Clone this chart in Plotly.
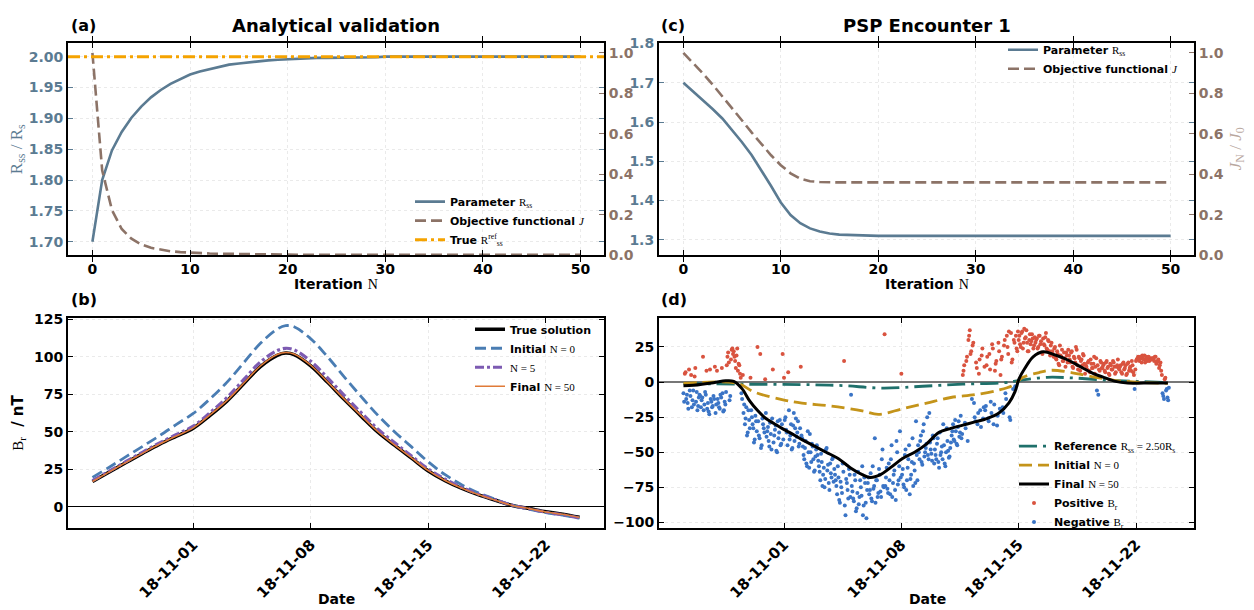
import pandas as pd
import plotly.graph_objects as go

# ---------------- data ----------------
iterations = list(range(51))

# (a) analytical validation
rss_analytic = [1.700, 1.800, 1.848, 1.878, 1.901, 1.919, 1.934, 1.946, 1.956, 1.964,
                1.971, 1.976, 1.980, 1.984, 1.987, 1.989, 1.991, 1.993, 1.994, 1.995,
                1.996, 1.997, 1.997, 1.998, 1.998, 1.998, 1.999, 1.999, 1.999, 1.999,
                2.000, 2.000, 2.000, 2.000, 2.000, 2.000, 2.000, 2.000, 2.000, 2.000,
                2.000, 2.000, 2.000, 2.000, 2.000, 2.000, 2.000, 2.000, 2.000, 2.000,
                2.000]
j_analytic = [1.000, 0.420, 0.224, 0.130, 0.082, 0.054, 0.037, 0.027, 0.020, 0.016,
              0.013, 0.011, 0.009, 0.008, 0.007, 0.006, 0.005, 0.005, 0.004, 0.004,
              0.003, 0.003, 0.003, 0.003, 0.003, 0.003, 0.003, 0.003, 0.003, 0.003,
              0.003, 0.003, 0.003, 0.003, 0.003, 0.003, 0.003, 0.003, 0.003, 0.003,
              0.003, 0.003, 0.003, 0.003, 0.003, 0.003, 0.003, 0.003, 0.003, 0.003,
              0.003]
rss_true = 2.0

# (c) PSP encounter 1
rss_psp = [1.700, 1.678, 1.656, 1.633, 1.609, 1.580, 1.549, 1.516, 1.478, 1.437,
           1.395, 1.363, 1.342, 1.329, 1.321, 1.316, 1.313, 1.312, 1.311, 1.3105,
           1.310, 1.310, 1.310, 1.310, 1.310, 1.310, 1.310, 1.310, 1.310, 1.310,
           1.310, 1.310, 1.310, 1.310, 1.310, 1.310, 1.310, 1.310, 1.310, 1.310,
           1.310, 1.310, 1.310, 1.310, 1.310, 1.310, 1.310, 1.310, 1.310, 1.310,
           1.310]
j_psp = [1.000, 0.950, 0.898, 0.843, 0.786, 0.727, 0.667, 0.607, 0.549, 0.494,
         0.445, 0.405, 0.378, 0.366, 0.362, 0.360, 0.360, 0.360, 0.360, 0.360,
         0.360, 0.360, 0.360, 0.360, 0.360, 0.360, 0.360, 0.360, 0.360, 0.360,
         0.360, 0.360, 0.360, 0.360, 0.360, 0.360, 0.360, 0.360, 0.360, 0.360,
         0.360, 0.360, 0.360, 0.360, 0.360, 0.360, 0.360, 0.360, 0.360, 0.360,
         0.360]

# (b) synthetic B_r along the trajectory (days since 2018-10-26)
start = pd.Timestamp("2018-10-26")
b_days = [0, 1, 2, 3, 4, 5, 6, 7, 8, 9, 10, 11, 11.5, 12, 13, 14, 15, 16, 17, 18,
          19, 20, 21, 22, 23, 24, 25, 26, 27, 28, 29]
br_true = [16.9, 23.3, 29.6, 35.8, 41.8, 47.2, 52.5, 61.0, 70.5, 82.0, 93.5, 101.0,
           102.5, 101.5, 94.0, 83.0, 71.5, 60.5, 49.8, 41.0, 32.5, 24.0, 17.5, 12.3,
           8.0, 4.5, 1.0, -1.0, -3.2, -4.8, -6.9]
br_init = [19.7, 26.5, 33.5, 40.5, 47.5, 55.0, 62.3, 72.0, 83.0, 96.0, 109.0, 118.5,
           120.8, 120.0, 112.0, 100.0, 86.5, 73.5, 61.0, 50.0, 40.0, 30.0, 21.5, 14.7,
           9.3, 5.0, 1.1, -1.5, -3.8, -5.5, -7.5]
br_n5 = [17.5, 23.9, 30.3, 36.6, 42.7, 48.3, 53.8, 62.8, 72.8, 84.8, 96.6, 104.2,
         105.7, 104.7, 97.0, 86.0, 74.2, 62.8, 51.8, 42.7, 33.9, 25.2, 18.5, 13.0,
         8.5, 4.8, 1.1, -1.2, -3.5, -5.2, -7.3]
br_final = [17.0, 23.4, 29.7, 35.9, 41.9, 47.3, 52.7, 61.3, 70.8, 82.4, 93.9, 101.5,
            102.9, 101.9, 94.4, 83.3, 71.8, 60.8, 50.1, 41.2, 32.7, 24.2, 17.6, 12.4,
            8.1, 4.5, 1.0, -1.1, -3.3, -4.9, -7.0]

# (d) PSP measured B_r, one row per day from 2018-10-26; samples at even hours ...
obs_even = [
    [-8, 6, -12, -15, 9, -10, -18, -6, 4, -14, -20, -11],
    [-10, -13, 18, -16, -9, -19, -21, 9, -14, -17, -12, -22],
    [8, -15, -19, -11, -8, -20, -16, 12, 21, -13, 16, 24],
    [22, 15, 19, 8, 12, 3, -12, -22, -30, -18, -36, -27],
    [3, -25, -33, -41, -28, 25, -38, 20, -45, -30, -36, -22],
    [-35, -42, -29, -48, 9, -38, -31, -50, -40, -27, -44, 20],
    [3, -25, -36, 7, -41, -30, -47, -22, -33, -39, -28, -44],
    [11, -40, -52, -47, -58, -35, -61, -50, -44, -55, -63, -48],
    [-52, -60, -70, -57, -66, -75, -48, -63, -72, -58, -68, -54],
    [-62, -70, -80, -68, -86, -75, -58, 15, -95, -72, -83, -66],
    [-9, -78, -85, -70, -90, -64, -82, -75, -60, -88, -72, -97],
    [-72, -80, -65, -85, -76, -40, -70, -82, -62, -78, -55, -74],
    [34, -68, -76, -58, -80, -45, -72, -63, -84, -50, -70, -35],
    [6, -62, -75, -48, -70, -55, -80, -66, -40, -58, -72, -52],
    [-45, -55, -38, -59, -30, -50, -44, -52, -22, -48, -56, -40],
    [-48, -55, -40, -61, -52, -46, -30, -58, -50, -42, -54, -47],
    [-38, -30, -42, -35, -45, -28, -36, -40, 5, 12, -33, 18],
    [30, 37, 22, 26, -15, -28, 10, -22, 16, -32, 24, -18],
    [-20, 12, -26, 20, -14, 27, -30, 8, 15, -24, 22, 5],
    [18, -22, 30, -12, 25, 36, -27, 14, -5, 28, 33, 22],
    [30, 27, 35, 24, 38, 32, 28, 22, 34, 29, 31, 26],
    [28, 31, 25, 33, 29, 20, 27, 32, 24, 30, 22, 26],
    [22, 18, 25, 16, 20, 12, 19, 23, 15, 17, 21, 14],
    [19, 14, 22, 10, 17, 25, 12, 18, 8, 16, 20, 13],
    [12, 9, 15, 7, 13, 10, 18, 11, -6, -9, 8, 14],
    [10, 13, 7, 15, 11, 5, 12, 9, 14, 6, 11, 16],
    [9, 12, 6, 14, 10, 5, 13, 8, 11, 15, 7, -5],
    [15, 17, 16, 18, 14, 17, 19, 16, 15, 18, 17, 16],
    [17, 15, 18, 14, 16, 12, 8, -8, -12, 3, -5, -13],
]
# ... and at odd hours
obs_odd = [
    [-14, 7, -9, -19, -6, 5, -13, -16, 10, -7, -17, -9],
    [-18, -11, -20, -7, 8, -15, -23, -12, -18, -10, 11, -16],
    [-12, -18, -9, 10, -21, -14, -7, 18, 14, -10, 23, 20],
    [18, 10, 24, 13, 6, -8, 5, -16, -26, -38, -20, -33],
    [-20, -30, -43, -24, -35, -28, -40, -47, -26, -33, 2, -39],
    [-32, -46, -37, -26, -43, -34, -49, -28, -36, -45, -30, -41],
    [-27, -34, -45, -20, -38, -48, -31, -42, -26, -36, -46, -33],
    [-38, -46, -55, -42, -60, -50, -37, -57, -46, -64, -53, -45],
    [-56, -64, -51, -74, -61, -69, -47, -59, -77, -65, -55, -71],
    [-66, -74, -60, -84, -71, -79, -64, -88, -69, -77, -62, -82],
    [-74, -83, -66, -92, -79, -87, -70, -81, -95, -68, -86, -77],
    [-68, -77, -83, -60, -74, -86, -70, -79, -66, -82, -48, -75],
    [-74, -61, -79, -70, -55, -82, -66, -77, -42, -73, -60, -68],
    [-66, -73, -52, -77, -61, -45, -69, -57, -74, -63, -28, -70],
    [-50, -42, -57, -35, -53, -47, -25, -55, -43, -51, -38, -58],
    [-52, -44, -57, -36, -50, -55, -45, -60, -33, -49, -53, -43],
    [-35, -41, -27, -44, -32, -39, -24, -37, 8, -29, 15, -42],
    [33, 20, -12, 28, -25, 14, -30, 6, -20, 19, -26, 11],
    [-17, 18, -28, 9, -22, 24, -16, 13, -31, 28, -19, 16],
    [-18, 26, -8, 33, 20, -25, 35, 16, 30, -3, 24, 36],
    [33, 25, 36, 28, 31, 37, 22, 30, 27, 34, 24, 32],
    [30, 24, 33, 27, 21, 31, 26, 35, 23, 29, 19, 28],
    [20, 24, 17, 22, 13, 26, 18, 15, 21, 11, 19, 23],
    [16, 21, 11, 18, 14, 23, 9, 17, 15, 12, 19, 6],
    [11, 14, 8, 16, 10, 13, 6, 17, 12, 9, 15, 10],
    [12, 8, 14, 10, 6, 13, 9, 15, 11, 7, 12, 10],
    [11, 7, 13, 9, 12, 6, 14, 10, 8, 12, 5, 9],
    [16, 18, 15, 17, 19, 16, 14, 18, 17, 15, 16, 17],
    [16, 18, 13, 15, 10, 14, 5, -10, 2, -6, -11, -4],
]

# (d) modelled B_r curves (days since 2018-10-26)
ref_days = [0, 3.48, 7.07, 9.47, 11.87, 14.27, 16.67, 19.06, 20.26, 21.7, 23.14, 25.06,
            26.98, 28.9]
br_ref = [-1.0, -1.5, -1.8, -2.5, -4.3, -3.0, -1.5, -0.5, 1.5, 3.4, 3.0, 1.5, 0.5, -0.3]

init_days = [0, 3.24, 4.2, 5.88, 7.07, 8.75, 10.67, 11.63, 13.07, 14.51, 15.95, 17.39,
             18.82, 19.66, 20.26, 21.22, 21.94, 23.14, 24.58, 25.78, 26.98, 28.9]
br_psp_init = [-1.0, -1.0, -7.0, -12.5, -15.0, -17.0, -20.5, -23.0, -19.0, -15.0, -11.0,
               -9.0, -5.7, -2.3, 3.4, 6.8, 8.4, 6.8, 3.4, 1.1, 0.0, -1.0]

final_days = [0, 0.6, 1.8, 2.52, 3.0, 3.48, 3.96, 4.44, 4.92, 5.4, 5.88, 6.35, 7.07,
              7.79, 8.51, 9.23, 9.95, 10.67, 11.15, 11.75, 12.35, 13.07, 13.79, 14.51,
              15.23, 15.95, 16.67, 17.39, 18.1, 18.82, 19.42, 19.78, 20.02, 20.38,
              20.86, 21.46, 22.18, 22.9, 23.62, 24.34, 25.06, 25.78, 26.5, 27.46, 28.9]
br_psp_final = [-2.7, -2.3, -0.5, 0.9, 0.5, -4.5, -13.6, -20.5, -26.0, -29.5, -33.0,
                -36.0, -41.0, -45.5, -50.0, -54.5, -61.0, -66.0, -68.0, -66.0, -61.0,
                -54.5, -50.0, -44.0, -36.0, -33.0, -30.7, -28.4, -26.0, -22.0, -14.8,
                -6.8, 2.3, 10.0, 18.0, 21.6, 19.3, 15.9, 11.4, 6.8, 3.4, 0.5, -0.7,
                -0.7, -0.7]

date_ticks = ["2018-11-01", "2018-11-08", "2018-11-15", "2018-11-22"]

# ---------------- styling ----------------
W, H = 1254, 610
C_RSS = "#5b7b92"
C_J = "#8c7367"
C_TRUE = "#f5a300"
C_INIT_B = "#4a7db3"
C_N5 = "#7d5bb2"
C_FIN_B = "#e07a38"
C_REF_D = "#1f706b"
C_INIT_D = "#c4941a"
C_POS = "#d9533f"
C_NEG = "#3a74c6"
FONT = "DejaVu Sans"


def math(s):
    return f'<span style="font-family:Liberation Serif;font-weight:normal">{s}</span>'


def px(x):
    return x / W


def py(y):
    return 1 - y / H


def to_time(days):
    return (start + pd.to_timedelta(pd.Series(days, dtype=float), unit="D")).dt.round("s")


obs_t, obs_v = [], []
for offset, table in ((0, obs_even), (1, obs_odd)):
    for d, row in enumerate(table):
        for k, v in enumerate(row):
            obs_t.append(start + pd.Timedelta(days=d, hours=2 * k + offset))
            obs_v.append(v)
obs = pd.DataFrame({"t": obs_t, "br": obs_v}).sort_values("t")
pos = obs[obs.br >= 0]
neg = obs[obs.br < 0]

XA = [px(68), px(604)]
XC = [px(659), px(1194)]
YTOP = [py(254), py(36)]
YBOT = [py(534), py(318)]

tickfont = dict(family=FONT, size=14, color="black", weight="bold")


def frame(**kw):
    d = dict(showline=True, linewidth=2, linecolor="black", mirror="allticks",
             ticks="inside", ticklen=5, tickwidth=1, tickcolor="black",
             showgrid=True, gridcolor="#eaeaea", griddash="dot", gridwidth=1,
             zeroline=False, tickfont=tickfont)
    d.update(kw)
    return d


fig = go.Figure()

# (a)
fig.add_trace(go.Scatter(x=iterations, y=rss_analytic, mode="lines",
                         line=dict(color=C_RSS, width=2.6), xaxis="x", yaxis="y",
                         name="Parameter " + math("R<sub>ss</sub>"), legend="legend"))
fig.add_trace(go.Scatter(x=iterations, y=j_analytic, mode="lines",
                         line=dict(color=C_J, width=2.6, dash="11px,5px"), xaxis="x", yaxis="y2",
                         name="Objective functional " + math("<i>J</i>"), legend="legend"))

# (c)
fig.add_trace(go.Scatter(x=iterations, y=rss_psp, mode="lines",
                         line=dict(color=C_RSS, width=2.6), xaxis="x2", yaxis="y3",
                         name="Parameter " + math("R<sub>ss</sub>"), legend="legend2"))
fig.add_trace(go.Scatter(x=iterations, y=j_psp, mode="lines",
                         line=dict(color=C_J, width=2.6, dash="11px,5px"), xaxis="x2", yaxis="y4",
                         name="Objective functional " + math("<i>J</i>"), legend="legend2"))

# (b)
tb = to_time(b_days)
fig.add_trace(go.Scatter(x=tb, y=br_true, mode="lines", line=dict(color="black", width=3.5, shape="spline"),
                         xaxis="x3", yaxis="y5", name="True solution", legend="legend3"))
fig.add_trace(go.Scatter(x=tb, y=br_init, mode="lines",
                         line=dict(color=C_INIT_B, width=2.8, dash="11px,5px", shape="spline"),
                         xaxis="x3", yaxis="y5", name="Initial " + math("N = 0"), legend="legend3"))
fig.add_trace(go.Scatter(x=tb, y=br_n5, mode="lines",
                         line=dict(color=C_N5, width=3.2, dash="9px,3px,3px,3px", shape="spline"),
                         xaxis="x3", yaxis="y5", name=math("N = 5"), legend="legend3"))
fig.add_trace(go.Scatter(x=tb, y=br_final, mode="lines",
                         line=dict(color=C_FIN_B, width=1.6, shape="spline"),
                         xaxis="x3", yaxis="y5", name="Final " + math("N = 50"), legend="legend3"))

# (d)
fig.add_trace(go.Scatter(x=pos.t, y=pos.br, mode="markers",
                         marker=dict(color=C_POS, size=4, line=dict(width=0)),
                         xaxis="x4", yaxis="y6", name="Positive " + math("B<sub>r</sub>"),
                         legend="legend4", legendrank=4))
fig.add_trace(go.Scatter(x=neg.t, y=neg.br, mode="markers",
                         marker=dict(color=C_NEG, size=4, line=dict(width=0)),
                         xaxis="x4", yaxis="y6", name="Negative " + math("B<sub>r</sub>"),
                         legend="legend4", legendrank=5))
fig.add_trace(go.Scatter(x=to_time(ref_days), y=br_ref, mode="lines",
                         line=dict(color=C_REF_D, width=2.8, dash="18px,6px,3px,6px", shape="spline"),
                         xaxis="x4", yaxis="y6",
                         name="Reference " + math("R<sub>ss</sub> = 2.50R<sub>s</sub>"),
                         legend="legend4", legendrank=1))
fig.add_trace(go.Scatter(x=to_time(init_days), y=br_psp_init, mode="lines",
                         line=dict(color=C_INIT_D, width=2.8, dash="13px,6px", shape="spline"),
                         xaxis="x4", yaxis="y6", name="Initial " + math("N = 0"),
                         legend="legend4", legendrank=2))
fig.add_trace(go.Scatter(x=to_time(final_days), y=br_psp_final, mode="lines",
                         line=dict(color="black", width=3, shape="spline"),
                         xaxis="x4", yaxis="y6", name="Final " + math("N = 50"),
                         legend="legend4", legendrank=3))

shapes = [
    dict(type="line", xref="x domain", x0=0, x1=1, yref="y", y0=rss_true, y1=rss_true,
         line=dict(color=C_TRUE, width=3, dash="12px,4px,3px,4px"), layer="above",
         showlegend=True, legend="legend", name="True " + math("R<sup>ref</sup><sub>ss</sub>")),
]

date_range = [start - pd.Timedelta(hours=35), start + pd.Timedelta(days=29, hours=35)]

legend_common = dict(bgcolor="rgba(0,0,0,0)", borderwidth=0, xanchor="left", yanchor="top",
                     font=dict(family=FONT, size=11, color="black", weight="bold"),
                     tracegroupgap=0, itemwidth=30)

datefont = dict(tickfont, size=15)

fig.update_layout(
    width=W, height=H, margin=dict(l=0, r=0, t=0, b=0),
    paper_bgcolor="white", plot_bgcolor="white",
    font=dict(family=FONT, size=14, color="black", weight="bold"),
    shapes=shapes,
    xaxis=frame(domain=XA, anchor="y", range=[-2.5, 52.4], tickvals=[0, 10, 20, 30, 40, 50]),
    yaxis=frame(domain=YTOP, anchor="x", range=[1.678, 2.022],
                tickvals=[1.70, 1.75, 1.80, 1.85, 1.90, 1.95, 2.00], tickformat=".2f",
                tickfont=dict(tickfont, color=C_RSS), tickcolor=C_RSS),
    yaxis2=frame(overlaying="y", side="right", anchor="x", range=[0, 1.048],
                 tickvals=[0, 0.2, 0.4, 0.6, 0.8, 1.0], tickformat=".1f", showgrid=False,
                 mirror=False, tickfont=dict(tickfont, color=C_J), tickcolor=C_J),
    xaxis2=frame(domain=XC, anchor="y3", range=[-2.5, 52.4], tickvals=[0, 10, 20, 30, 40, 50]),
    yaxis3=frame(domain=YTOP, anchor="x2", range=[1.2603, 1.8012],
                 tickvals=[1.3, 1.4, 1.5, 1.6, 1.7, 1.8], tickformat=".1f",
                 tickfont=dict(tickfont, color=C_RSS), tickcolor=C_RSS),
    yaxis4=frame(overlaying="y3", side="right", anchor="x2", range=[0, 1.048],
                 tickvals=[0, 0.2, 0.4, 0.6, 0.8, 1.0], tickformat=".1f", showgrid=False,
                 mirror=False, tickfont=dict(tickfont, color=C_J), tickcolor=C_J),
    xaxis3=frame(domain=XA, anchor="y5", type="date", range=date_range,
                 tickvals=date_ticks, tickformat="%y-%m-%d", tickangle=-45, tickfont=datefont),
    yaxis5=frame(domain=YBOT, anchor="x3", range=[-14, 126.1], tickvals=[0, 25, 50, 75, 100, 125],
                 zeroline=True, zerolinecolor="black", zerolinewidth=1),
    xaxis4=frame(domain=XC, anchor="y6", type="date", range=date_range,
                 tickvals=date_ticks, tickformat="%y-%m-%d", tickangle=-45, tickfont=datefont),
    yaxis6=frame(domain=YBOT, anchor="x4", range=[-104, 45.9], tickvals=[-100, -75, -50, -25, 0, 25],
                 zeroline=True, zerolinecolor="#777777", zerolinewidth=2),
    legend=dict(legend_common, x=px(410), y=py(184)),
    legend2=dict(legend_common, x=px(1003), y=py(28)),
    legend3=dict(legend_common, x=px(470), y=py(315)),
    legend4=dict(legend_common, x=px(1014), y=py(435)),
)

ann = []


def text(x, y, s, size=14, **kw):
    d = dict(x=px(x), y=py(y), xref="paper", yref="paper", text=s, showarrow=False,
             font=dict(family=FONT, size=size, color=kw.pop("color", "black"), weight="bold"))
    d.update(kw)
    ann.append(d)


text(69, 18, "(a)", size=16, xanchor="left", yanchor="middle")
text(336, 18, "Analytical validation", size=18, xanchor="center", yanchor="middle")
text(659, 18, "(c)", size=16, xanchor="left", yanchor="middle")
text(927, 18, "PSP Encounter 1", size=18, xanchor="center", yanchor="middle")
text(69, 299, "(b)", size=16, xanchor="left", yanchor="middle")
text(659, 299, "(d)", size=16, xanchor="left", yanchor="middle")
text(336, 283, "Iteration " + math("N"), xanchor="center", yanchor="middle")
text(927, 283, "Iteration " + math("N"), xanchor="center", yanchor="middle")
text(336, 610, "Date", xanchor="center", yanchor="bottom", borderpad=0, yshift=-6)
text(927, 610, "Date", xanchor="center", yanchor="bottom", borderpad=0, yshift=-6)
text(18, 145, math("R<sub>ss</sub> / R<sub>s</sub>"), size=17, color=C_RSS, textangle=-90,
     xanchor="center", yanchor="middle")
text(1237, 145, math("<i>J</i><sub>N</sub> / <i>J</i><sub>0</sub>"), size=17, color="#b9a79e",
     textangle=-90, xanchor="center", yanchor="middle")
text(19, 426, math("B<sub>r</sub>") + "  / nT", size=15, textangle=-90,
     xanchor="center", yanchor="middle")

fig.update_layout(annotations=ann)

fig.write_html("out.html")
